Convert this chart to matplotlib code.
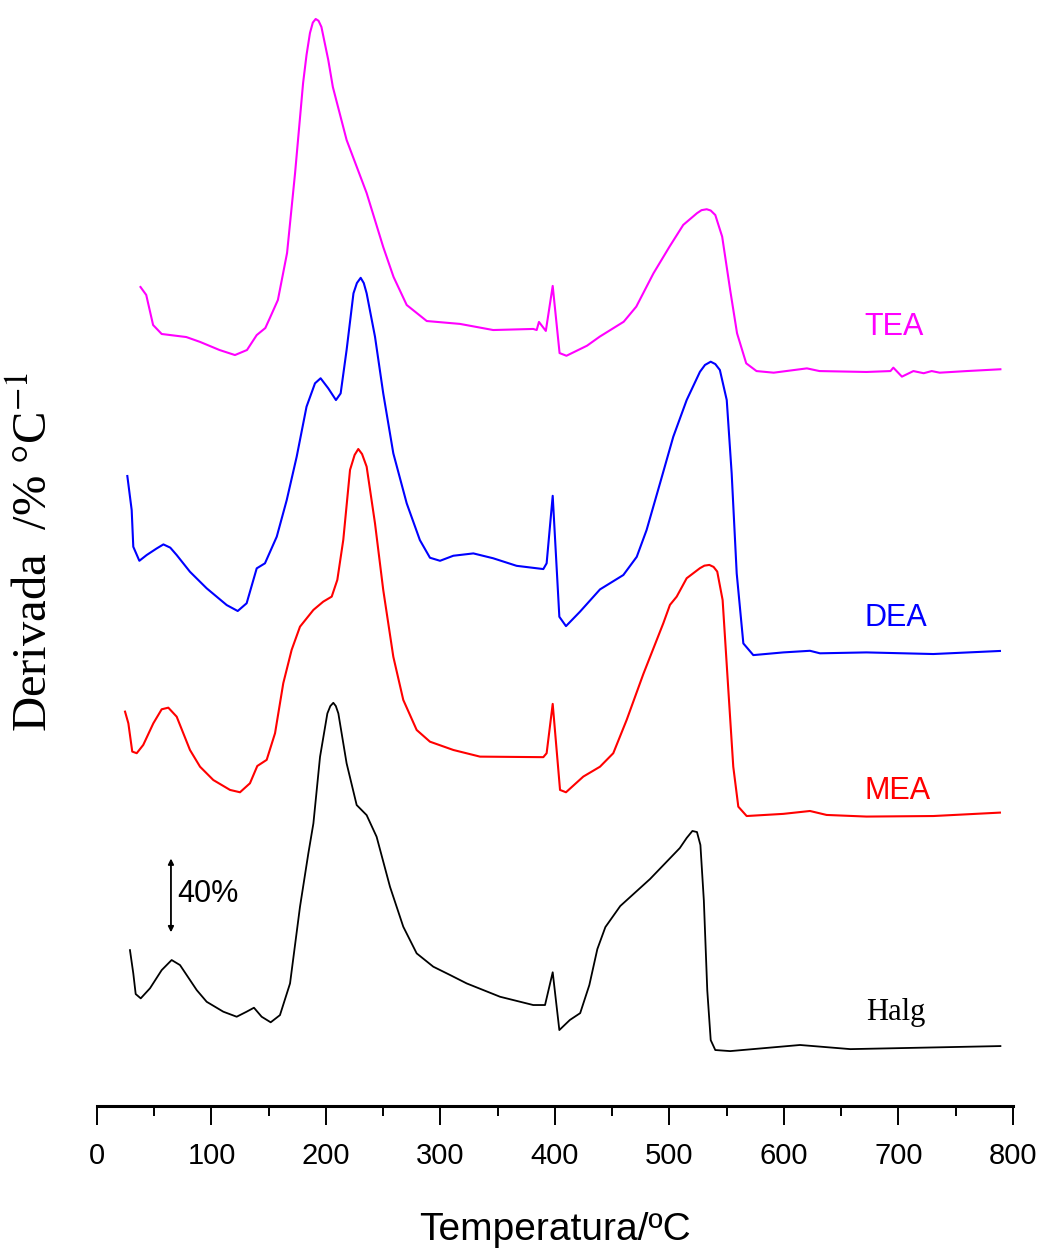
"""
DTG curves (derivative of mass loss) for Halg and the MEA, DEA, TEA samples,
stacked with a vertical offset, and a 40% scale bar.
"""

import matplotlib
matplotlib.use("Agg")
import matplotlib.pyplot as plt
from matplotlib import font_manager

# temperature (degC) and derivative (relative to each curve's own baseline)
tea_t = [38, 43, 49, 56.5, 78, 90, 107, 120.5, 131, 139.5, 147, 151, 158, 166,
         173, 180, 183, 186, 188.5, 191, 193.5, 196, 202, 206, 218, 235.5, 250,
         259, 270.5, 288, 317, 346, 381, 384, 386, 392, 398, 404, 410, 428, 439,
         460, 471, 486, 500, 512, 524, 528, 532.5, 536, 540, 546, 553, 559, 567,
         576, 591, 620, 631, 672, 693, 695.5, 703, 713, 722, 729, 736, 759.5,
         789]
tea_d = [46.1, 41.7, 25, 20, 18.3, 15.6, 11.1, 8.3, 11.1, 19.4, 23.3, 28.9,
         38.9, 65, 109.4, 159.4, 175, 187.2, 193, 195, 194, 190.6, 172.2, 157.2,
         127.8, 98.3, 68.3, 51.7, 36.1, 27.2, 25.6, 22.2, 22.8, 22.2, 26.7,
         21.7, 46.7, 9.4, 7.9, 13.5, 18.5, 26.8, 35.2, 53.7, 68.5, 80.6, 87.1,
         88.8, 89.3, 88.6, 86.1, 74.1, 44.4, 20.4, 3.7, -0.6, -1.5, 0.9, -0.6,
         -1.1, -0.6, 1.3, -3.7, -0.6, -1.8, -0.6, -1.5, -0.6, 0.4]

dea_t = [26.5, 30.3, 31.7, 37, 43.4, 52, 58, 64, 69.6, 81.2, 95.8, 113.3, 122.9,
         130.7, 139.5, 146.7, 157, 165.7, 174.4, 183, 190.4, 195.3, 202, 208.7,
         212.8, 218, 224, 227, 230.3, 233, 235.5, 242.8, 250, 258.8, 270.5, 282,
         290.8, 299.6, 311.2, 328.7, 346, 366.5, 389.8, 392.7, 398, 403.8,
         409.6, 421.8, 439.3, 459.7, 471.4, 480, 491.7, 503.3, 515, 526.6, 531,
         536, 540, 544, 550, 554.3, 558.7, 564.5, 573.2, 599.4, 622.7, 631.4,
         672, 730.4, 788.6]
dea_d = [97.8, 78.9, 58.5, 50.7, 53.9, 57.5, 59.8, 58, 53.9, 44.6, 35.4, 26.1,
         22.8, 27.1, 46.5, 49.3, 64.1, 84.4, 108.5, 136.3, 149.3, 152.1, 146.5,
         140, 143.7, 167.8, 199.3, 205, 207.9, 205, 199.3, 175.2, 143.7, 110.4,
         82.6, 62.2, 52.4, 50.7, 53.5, 54.8, 52.1, 47.9, 46.1, 49.3, 86.8, 19.6,
         14.4, 22.4, 34.8, 42.8, 52.9, 67.8, 93.7, 119.6, 140, 155.7, 159.5,
         161.3, 160, 156.7, 140, 99.3, 43.7, 4.8, -1.7, -0.2, 0.7, -0.7, -0.2,
         -1.1, 0.6]

mea_t = [24.5, 27.4, 30.8, 34.7, 40.4, 49.2, 56.5, 62.3, 69.6, 81.2, 90, 101.6,
         116.2, 124.9, 133.6, 140, 148.2, 155.5, 162.7, 170, 177.3, 189, 197.6,
         205, 209.9, 215.1, 221, 225, 228.2, 231.5, 235.5, 242.8, 250, 258.8,
         267.5, 279.2, 290.8, 311.2, 334.5, 389.8, 392.7, 398, 404.4, 409.6,
         424.7, 439.3, 450.9, 462.6, 477.1, 494.6, 500.4, 506.3, 515, 526.6,
         530.5, 534.8, 538.5, 541.7, 546.4, 551.4, 555.7, 560.1, 567.4, 599.4,
         622.7, 637.2, 672, 730.4, 788.6]
mea_d = [57.4, 50.9, 35.2, 34.3, 38.9, 50.9, 58.7, 59.6, 54.6, 36.1, 26.8, 19.4,
         13.9, 12.6, 17.6, 27.2, 30.6, 45.4, 73.2, 91.7, 104.6, 113.9, 118.5,
         121.3, 130.6, 152.8, 191.7, 200, 203.3, 200.5, 193.5, 162, 125, 87.9,
         63.9, 47.2, 40.7, 36.1, 32.4, 32.1, 34.3, 61.7, 13.9, 12.6, 21.3, 26.8,
         34.3, 52.8, 78.2, 106.5, 116.7, 121.3, 131.5, 137.1, 138.5, 138.9,
         137.8, 135.2, 119.4, 69.4, 26.8, 4.6, -0.6, 0.6, 2.2, 0, -0.9, -0.6,
         1.3]

halg_t = [28.8, 31.7, 33.8, 38.2, 46.3, 56.5, 65.2, 72.5, 87.1, 95.8, 110.3,
          122, 130.7, 137.1, 143.8, 151.7, 159.8, 168.6, 177.3, 184.6, 189,
          194.8, 201.2, 203.8, 206.4, 208.6, 210.8, 218, 226.8, 235.5, 244.2,
          255.9, 267.5, 279.2, 293.7, 308.3, 322.9, 352, 381, 391.3, 398, 403.8,
          413, 422, 430, 437, 444, 457, 483, 509, 515, 520, 524, 527, 530, 533,
          536, 540, 553, 614, 658, 789]
halg_d = [54.4, 41.5, 30, 27.6, 33.2, 43.3, 48.9, 46.1, 32.2, 25.7, 20.2, 17.4,
          20.2, 22.4, 17.4, 14.3, 18.3, 35.9, 78.5, 108.2, 124.8, 161.8, 185.9,
          190, 191.8, 190, 185.9, 158.2, 135, 129.4, 117.4, 89.6, 67.4, 52.6,
          45.2, 40.6, 35.9, 28.5, 23.9, 23.9, 42.1, 10, 15.6, 19.4, 35, 55,
          67.2, 78.9, 93.9, 111.1, 116.7, 120.6, 120, 112.8, 82, 32, 4.4, -1.1,
          -1.7, 1.7, -0.6, 1.1]

names = ["Halg", "MEA", "DEA", "TEA"]
offsets = [32.2, 161.7, 252.2, 408.9]
colors = ["black", "#ff0000", "#0000ff", "#ff00ff"]

# narrow sans for the axis text, as in the original plot
installed = {f.name for f in font_manager.fontManager.ttflist}
if "Liberation Sans Narrow" in installed:
    narrow = "Liberation Sans Narrow"
elif "DejaVu Sans Condensed" in installed:
    narrow = "DejaVu Sans Condensed"
else:
    narrow = "Liberation Sans"
plt.rcParams["mathtext.fontset"] = "stix"

fig = plt.figure(figsize=(10.44, 12.51), dpi=100)
ax = fig.add_axes([0.0929, 0.1159, 0.8774, 0.8777])

curves = [(halg_t, halg_d), (mea_t, mea_d), (dea_t, dea_d), (tea_t, tea_d)]
for (t, d), off, c in zip(curves, offsets, colors):
    ax.plot(t, [v + off for v in d], color=c,
            lw=1.5 if c != "black" else 1.3, solid_joinstyle="round")

# curve labels
ax.text(670, 433, "TEA", color="#ff00ff", fontsize=22, family=narrow,
        va="center")
ax.text(670, 271, "DEA", color="#0000ff", fontsize=22, family=narrow,
        va="center")
ax.text(670, 175, "MEA", color="#ff0000", fontsize=22, family=narrow,
        va="center")
ax.text(672, 52, "Halg", color="black", fontsize=22, family="Liberation Serif",
        va="center")

# 40 % scale bar
ax.annotate("", xy=(64.6, 96.5), xytext=(64.6, 137.5),
            arrowprops=dict(arrowstyle="<|-|>", color="black", lw=1.3,
                            mutation_scale=8, shrinkA=0, shrinkB=0))
ax.text(70, 118, "40%", fontsize=22, family=narrow, va="center")

ax.set_xlim(0, 800)
ax.set_ylim(0, 610)
for s in ["top", "left", "right"]:
    ax.spines[s].set_visible(False)
ax.spines["bottom"].set_linewidth(2.2)
ax.set_yticks([])
ax.set_xticks(range(0, 801, 100))
ax.set_xticks(range(50, 800, 100), minor=True)
ax.tick_params(axis="x", which="major", direction="out", length=14, width=1.4,
               labelsize=21, pad=12)
ax.tick_params(axis="x", which="minor", direction="out", length=7, width=1.4)
for lab in ax.get_xticklabels():
    lab.set_family(narrow)

ax.set_xlabel("Temperatura/\u00baC", fontsize=28, family=narrow, labelpad=30)
fig.text(0.033, 0.559, "Derivada  /% \u00b0C$^{-1}$", rotation=90,
         fontsize=35, family="Liberation Serif", ha="center", va="center")

fig.savefig("out.png", dpi=100)
